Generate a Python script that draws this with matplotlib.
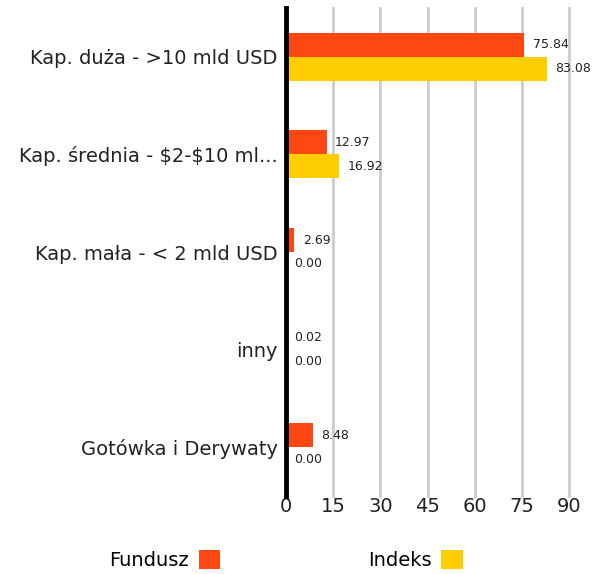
import numpy as np
import matplotlib
matplotlib.use('Agg')
import matplotlib.pyplot as plt

plt.rcParams['font.family'] = ['DejaVu Sans']

kategorie = ['Kap. duża - >10 mld USD', r'Kap. średnia - \$2-\$10 ml...',
             'Kap. mała - < 2 mld USD', 'inny', 'Gotówka i Derywaty']
fundusz = [75.84, 12.97, 2.69, 0.02, 8.48]
indeks = [83.08, 16.92, 0.00, 0.00, 0.00]
xticks = [0, 15, 30, 45, 60, 75, 90]

c_fund = '#FF4714'
c_ind = '#FFCE00'

fig = plt.figure(figsize=(6.06, 5.74), dpi=100)
ax = fig.add_axes([286/606, 1-496/574, (569-286)/606, 488/574])

y = np.arange(len(kategorie))
h = 0.245
b1 = ax.barh(y - h/2, fundusz, height=h, color=c_fund, label='Fundusz', zorder=3)
b2 = ax.barh(y + h/2, indeks, height=h, color=c_ind, label='Indeks', zorder=3)

for bars, vals in [(b1, fundusz), (b2, indeks)]:
    for r, v in zip(bars, vals):
        ax.annotate('%.2f' % v, (v, r.get_y() + r.get_height()/2),
                    xytext=(6, 0), textcoords='offset points',
                    va='center', ha='left', fontsize=9, color='#222222',
                    annotation_clip=False)

ax.set_xlim(0, 90)
ax.set_ylim(len(kategorie) - 0.5, -0.5)
ax.set_xticks(xticks)
ax.set_xticklabels([str(t) for t in xticks])
ax.set_yticks(y)
ax.set_yticklabels(kategorie)
ax.tick_params(axis='x', length=0, labelsize=14, pad=1, colors='#222222')
ax.tick_params(axis='y', length=0, labelsize=14, pad=6, colors='#222222')

ax.grid(axis='x', color='#cccccc', linewidth=2, zorder=0)
for gl in ax.get_xgridlines():
    gl.set_clip_on(False)
for s in ['top', 'right', 'bottom']:
    ax.spines[s].set_visible(False)
ax.spines['left'].set_linewidth(3.5)
ax.spines['left'].set_color('black')
ax.spines['left'].set_zorder(5)

fig.legend(handles=[b1, b2], loc='lower center', bbox_to_anchor=(0.472, -0.024),
           ncol=2, frameon=False, markerfirst=False, fontsize=14,
           handlelength=1.1, handleheight=1.1, columnspacing=7.6, handletextpad=0.5)

fig.savefig('out.png', dpi=100)
